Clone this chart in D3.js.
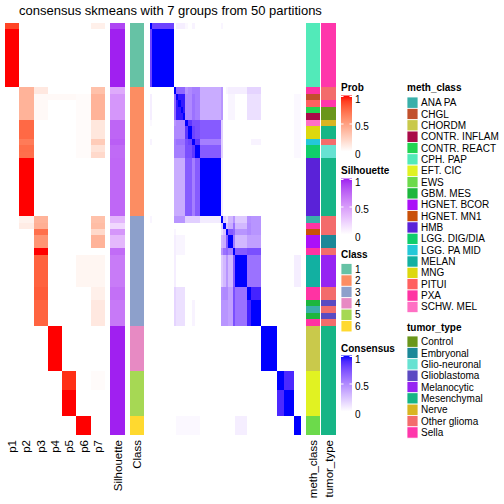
<!DOCTYPE html>
<html><head><meta charset="utf-8">
<script src="https://cdn.jsdelivr.net/npm/d3@7"></script>
<style>body{margin:0;background:#fff}svg{display:block;font-family:"Liberation Sans",Arial,Helvetica,sans-serif}</style>
</head><body><svg id="c" width="504" height="504"></svg>
<script>
// ---------------- data ----------------
const chartTitle = "consensus skmeans with 7 groups from 50 partitions";
const probLabels = ["p1","p2","p3","p4","p5","p6","p7"];
// membership probabilities per sample, as runs [count, [p1..p7]]
const probRuns = [
  [1,[0.88,0,0,0,0,0,0.08]],
  [9,[1,0,0,0,0,0,0]],
  [1,[0,0.4,0.12,0,0,0,0.33]],
  [1,[0,0.4,0.03,0.03,0.03,0.02,0.4]],
  [3,[0,0.4,0.03,0,0,0.02,0.4]],
  [3,[0,0.75,0,0,0,0.02,0.13]],
  [1,[0,0.67,0,0,0,0.02,0.27]],
  [1,[0,0.73,0,0,0,0.02,0.15]],
  [1,[0,0.72,0,0,0,0.02,0.2]],
  [9,[0,1,0,0,0,0,0]],
  [1,[0,0.07,0.4,0,0,0,0.33]],
  [1,[0,0.1,0.42,0,0,0,0.35]],
  [1,[0,0,0.72,0,0,0,0.2]],
  [2,[0,0,0.55,0,0,0,0.4]],
  [1,[0,0,1,0,0,0,0]],
  [5,[0,0,0.78,0,0,0.05,0.05]],
  [2,[0,0,0.8,0,0,0,0.08]],
  [4,[0,0,0.77,0,0,0,0.12]],
  [7,[0,0,0,1,0,0,0]],
  [3,[0,0,0,0,0.94,0,0.02]],
  [4,[0,0,0,0,1,0,0]],
  [3,[0,0,0,0,0,1,0]]
];
const silhouetteRuns = [[1,0.88],[9,1],[1,0.42],[4,0.52],[3,0.75],[1,0.78],[2,0.73],[9,0.74],
  [1,0.36],[1,0.2],[1,0.52],[2,0.35],[1,0.72],[5,0.65],[2,0.7],[4,0.66],[17,1]];
const classRuns = [[10,"1"],[20,"2"],[17,"3"],[7,"4"],[7,"5"],[3,"6"]];
const classLevels = ["1","2","3","4","5","6"];
const classColors = ["#66C2A5","#FC8D62","#8DA0CB","#E78AC3","#A6D854","#FFD92F"];

const methRuns = [[10,"CPH. PAP"],[1,"PXA"],[1,"CHGL"],[1,"PITUI"],[1,"CONTR. REACT"],[1,"CONTR. INFLAM"],
  [1,"SCHW. MEL"],[2,"MNG"],[1,"LGG. PA MID"],[2,"LGG. DIG/DIA"],[9,"HMB"],[1,"ANA PA"],[1,"PXA"],
  [1,"HGNET. MN1"],[2,"HGNET. BCOR"],[1,"PXA"],[5,"MELAN"],[2,"PXA"],[1,"GBM. MES"],[1,"ANA PA"],
  [1,"GBM. MES"],[1,"PXA"],[7,"CHORDM"],[7,"EFT. CIC"],[3,"EWS"]];
const methLevels = ["ANA PA","CHGL","CHORDM","CONTR. INFLAM","CONTR. REACT","CPH. PAP","EFT. CIC","EWS",
  "GBM. MES","HGNET. BCOR","HGNET. MN1","HMB","LGG. DIG/DIA","LGG. PA MID","MELAN","MNG","PITUI","PXA","SCHW. MEL"];
const methColors = ["#3AAFA9","#C1502C","#C9C94B","#A90A48","#22D452","#52EAB9","#E1F222","#6CDA4B",
  "#1DB63D","#AB10F8","#C95009","#5A22D8","#10CD6B","#24C8D8","#12B0A1","#DDD80E","#FF6060","#FF33A3","#FF70C4"];

const tumorRuns = [[10,"Sella"],[2,"Other glioma"],[1,"Sella"],[2,"Control"],[1,"Nerve"],[2,"Mesenchymal"],
  [1,"Other glioma"],[2,"Glio-neuronal"],[9,"Mesenchymal"],[3,"Other glioma"],[2,"Embryonal"],[1,"Other glioma"],
  [5,"Melanocytic"],[2,"Other glioma"],[1,"Glioblastoma"],[1,"Other glioma"],[1,"Glioblastoma"],[1,"Other glioma"],
  [17,"Mesenchymal"]];
const tumorLevels = ["Control","Embryonal","Glio-neuronal","Glioblastoma","Melanocytic","Mesenchymal","Nerve","Other glioma","Sella"];
const tumorColors = ["#6A961B","#1B8898","#67E2D2","#5B4AC2","#9624F2","#16B586","#D8B521","#F36C6C","#FF36AB"];

// consensus matrix: sample sub-groups, within-group value, and between-group pairs
const groupSizes  = [1,9,1,4,1,2,1,2,9,1,1,1,2,1,5,2,4,7,3,4,3];
const groupWithin = [1,1,1,0.95,1,1,1,1,1,1,1,1,1,1,1,1,1,1,1,1,1];
const groupPairs = [
  [0,1,0.8],[0,3,0.07],[0,4,0.03],[0,6,0.05],[0,9,0.04],
  [2,3,0.65],[2,4,0.45],[2,5,0.5],[2,6,0.55],[2,7,0.55],[2,8,0.35],[2,9,0.45],[2,11,0.04],[2,12,0.07],[2,13,0.07],[2,14,0.07],[2,15,0.18],[2,16,0.18],
  [3,4,0.5],[3,5,0.5],[3,6,0.6],[3,7,0.55],[3,8,0.35],[3,9,0.45],[3,12,0.04],[3,13,0.04],[3,15,0.13],[3,16,0.13],[3,20,0.03],
  [4,5,0.85],[4,6,0.75],[4,7,0.75],[4,8,0.7],[4,9,0.2],[4,20,0.03],
  [5,6,0.8],[5,7,0.75],[5,8,0.7],[5,9,0.2],[5,20,0.03],
  [6,7,0.85],[6,8,0.55],[6,9,0.2],[6,16,0.05],[6,20,0.03],
  [7,8,0.7],[7,9,0.2],[7,20,0.03],
  [8,9,0.08],
  [9,10,0.2],[9,11,0.12],[9,12,0.3],[9,13,0.45],[9,14,0.22],[9,15,0.48],[9,16,0.45],
  [10,11,0.25],[10,12,0.35],[10,13,0.6],[10,14,0.3],[10,15,0.5],[10,16,0.45],
  [11,12,0.7],[11,13,0.65],[11,14,0.45],[11,15,0.5],[11,16,0.45],
  [12,13,0.55],[12,14,0.3],[12,15,0.4],[12,16,0.4],
  [13,14,0.7],[13,15,0.75],[13,16,0.75],
  [14,15,0.6],[14,16,0.6],[14,20,0.07],
  [15,16,0.92],
  [18,19,0.9]
];

// ---------------- helpers ----------------
const expand = runs => runs.flatMap(([n, v]) => Array.from({length: n}, () => v));
const prob = expand(probRuns);
const sil = expand(silhouetteRuns);
const cls = expand(classRuns);
const meth = expand(methRuns);
const tumor = expand(tumorRuns);
const grp = expand(groupSizes.map((n, i) => [n, i]));
const N = prob.length;
const pairMap = new Map();
groupPairs.forEach(([a, b, v]) => { pairMap.set(a + "-" + b, v); pairMap.set(b + "-" + a, v); });
const consensus = (i, j) => {
  if (i === j) return 1;
  const a = grp[i], b = grp[j];
  if (a === b) return groupWithin[a];
  return pairMap.get(a + "-" + b) || 0;
};

// ---------------- scales ----------------
const lab = d3.interpolateLab;
const probColor = d3.scaleLinear().domain([0,1]).range(["#ffffff","#ff0000"]).interpolate(lab);
const silColor = d3.scaleLinear().domain([0,1]).range(["#ffffff","#a020f0"]).interpolate(lab);
const consColor = d3.scaleLinear().domain([0,1]).range(["#ffffff","#0000ff"]).interpolate(lab);
const classColor = d3.scaleOrdinal().domain(classLevels).range(classColors);
const methColor = d3.scaleOrdinal().domain(methLevels).range(methColors);
const tumorColor = d3.scaleOrdinal().domain(tumorLevels).range(tumorColors);

const bodyTop = 23, bodyBottom = 435;
const yRow = d3.scaleBand().domain(d3.range(N)).range([bodyTop, bodyBottom]);
const xProb = d3.scaleBand().domain(probLabels).range([5, 105]);
const xCons = d3.scaleBand().domain(d3.range(N)).range([150, 301]);
const annCols = [
  {name: "Silhouette", x0: 110, x1: 125},
  {name: "Class", x0: 130, x1: 144},
  {name: "meth_class", x0: 306, x1: 320},
  {name: "tumor_type", x0: 321, x1: 336}
];

const svg = d3.select("#c");
svg.append("rect").attr("width", 504).attr("height", 504).attr("fill", "#fff");

svg.append("text").attr("x", 170.5).attr("y", 14.5).attr("text-anchor", "middle")
  .attr("font-size", 13).attr("fill", "#000").text(chartTitle);

const cells = svg.append("g").attr("shape-rendering", "crispEdges");

// probability heatmap
prob.forEach((row, i) => {
  row.forEach((v, k) => {
    cells.append("rect").attr("x", xProb(probLabels[k])).attr("y", yRow(i))
      .attr("width", xProb.bandwidth()).attr("height", yRow.bandwidth())
      .attr("fill", probColor(v));
  });
});

// annotations
const annData = [
  sil.map(silColor), cls.map(classColor), meth.map(methColor), tumor.map(tumorColor)
];
annCols.forEach((c, ci) => {
  annData[ci].forEach((col, i) => {
    cells.append("rect").attr("x", c.x0).attr("y", yRow(i))
      .attr("width", c.x1 - c.x0).attr("height", yRow.bandwidth()).attr("fill", col);
  });
});

// consensus heatmap
for (let i = 0; i < N; i++) {
  for (let j = 0; j < N; j++) {
    const v = consensus(i, j);
    if (v <= 0) continue;
    cells.append("rect").attr("x", xCons(j)).attr("y", yRow(i))
      .attr("width", xCons.bandwidth()).attr("height", yRow.bandwidth())
      .attr("fill", consColor(v));
  }
}

// bottom labels
const labFont = 11.5;
const bottomLabels = probLabels.map(p => ({t: p, x: xProb(p) + xProb.bandwidth() / 2}))
  .concat(annCols.map(c => ({t: c.name, x: (c.x0 + c.x1) / 2})));
bottomLabels.forEach(d => {
  svg.append("text").attr("transform", `translate(${d.x + 4},440) rotate(-90)`)
    .attr("text-anchor", "end").attr("font-size", labFont).attr("fill", "#000").text(d.t);
});

// ---------------- legends ----------------
const defs = svg.append("defs");
function gradLegend(id, title, scale, x, yTitle, y1, y0) {
  const g = defs.append("linearGradient").attr("id", id).attr("x1", 0).attr("y1", 0).attr("x2", 0).attr("y2", 1);
  d3.range(11).forEach(k => g.append("stop").attr("offset", k / 10).attr("stop-color", scale(1 - k / 10)));
  svg.append("text").attr("x", x).attr("y", yTitle).attr("font-size", 10).attr("font-weight", "bold")
    .attr("fill", "#000").text(title);
  svg.append("rect").attr("x", x).attr("y", y1 - 1).attr("width", 11).attr("height", y0 - y1 + 1)
    .attr("fill", `url(#${id})`);
  const ys = d3.scaleLinear().domain([0, 1]).range([y0, y1]);
  [0, 0.5, 1].forEach(v => {
    const yy = ys(v);
    if (v > 0) {
      svg.append("line").attr("x1", x).attr("x2", x + 2.5).attr("y1", yy).attr("y2", yy).attr("stroke", "#fff").attr("stroke-width", 1);
      svg.append("line").attr("x1", x + 8.5).attr("x2", x + 11).attr("y1", yy).attr("y2", yy).attr("stroke", "#fff").attr("stroke-width", 1);
    }
    svg.append("text").attr("x", x + 14).attr("y", yy + 2.5).attr("dy", "0.35em").attr("font-size", 10)
      .attr("fill", "#000").text(v === 0.5 ? "0.5" : String(v));
  });
}
gradLegend("gProb", "Prob", probColor, 341, 90.5, 96.5, 151.5);
gradLegend("gSil", "Silhouette", silColor, 341, 174, 179.5, 234.5);
gradLegend("gCons", "Consensus", consColor, 341, 351.5, 356.5, 411.5);

function catLegend(title, levels, scale, x, yTitle, yStart, step) {
  svg.append("text").attr("x", x).attr("y", yTitle).attr("font-size", 10).attr("font-weight", "bold")
    .attr("fill", "#000").text(title);
  levels.forEach((l, k) => {
    const yy = yStart + k * step;
    svg.append("rect").attr("x", x).attr("y", yy).attr("width", 11).attr("height", step)
      .attr("fill", scale(l)).attr("stroke", "#fff").attr("stroke-width", 0.8);
    svg.append("text").attr("x", x + 14).attr("y", yy + step / 2).attr("dy", "0.35em")
      .attr("font-size", 10).attr("fill", "#000").text(l);
  });
}
catLegend("Class", classLevels, classColor, 341, 258, 263.5, 11.4);
catLegend("meth_class", methLevels, methColor, 407, 90.5, 97, 11.35);
catLegend("tumor_type", tumorLevels, tumorColor, 407, 331, 336, 11.35);
</script></body></html>
